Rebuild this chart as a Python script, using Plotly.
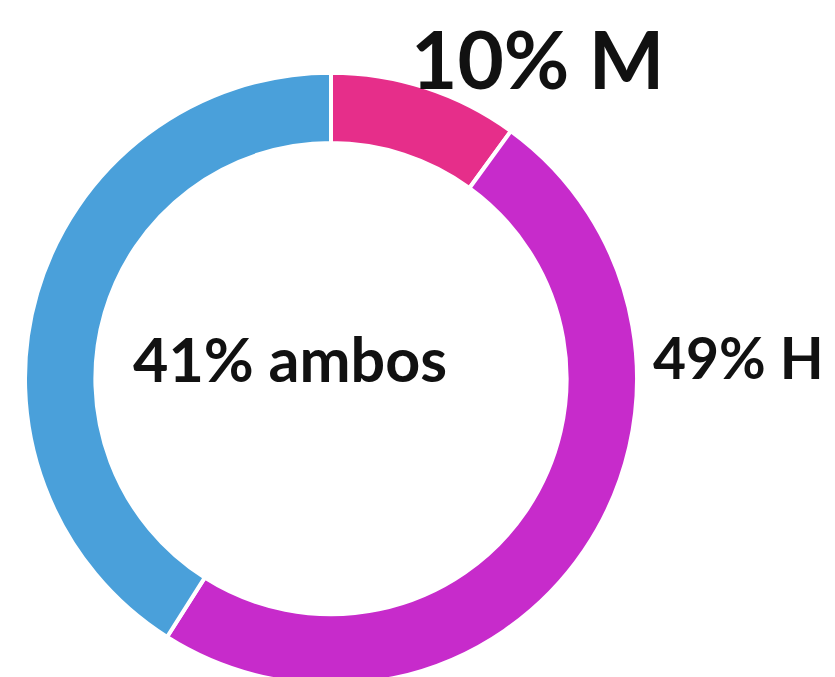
import plotly.graph_objects as go

labels = ["M", "H", "ambos"]
values = [10, 49, 41]
colors = ["#E62E8A", "#C72BCB", "#4AA0DA"]
label_texts = ["10% M", "49% H", "41% ambos"]

W, H = 835, 677

fig = go.Figure(go.Pie(
    labels=labels,
    values=values,
    hole=0.77,
    sort=False,
    direction="clockwise",
    rotation=0,
    marker=dict(colors=colors, line=dict(color="white", width=4)),
    textinfo="none",
    hoverinfo="label+percent",
    showlegend=False,
    domain=dict(x=[(323 - 306) / W, (323 + 306) / W], y=[0, 0.905]),
))

# label positions (pixel-center -> paper)
pos = {"10% M": (529, 50, 80), "49% H": (730, 349, 57), "41% ambos": (282, 350, 61)}
for t in label_texts:
    px, py, fs = pos[t]
    fig.add_annotation(
        text=t, x=px / W, y=1 - py / H, xref="paper", yref="paper",
        xanchor="center", yanchor="middle", showarrow=False, borderpad=0,
        font=dict(family="Lato", size=fs, color="#111111", weight="bold"),
    )

fig.update_layout(
    width=W, height=H,
    margin=dict(l=0, r=0, t=0, b=0),
    paper_bgcolor="white", plot_bgcolor="white",
)

fig.write_html("out.html")
